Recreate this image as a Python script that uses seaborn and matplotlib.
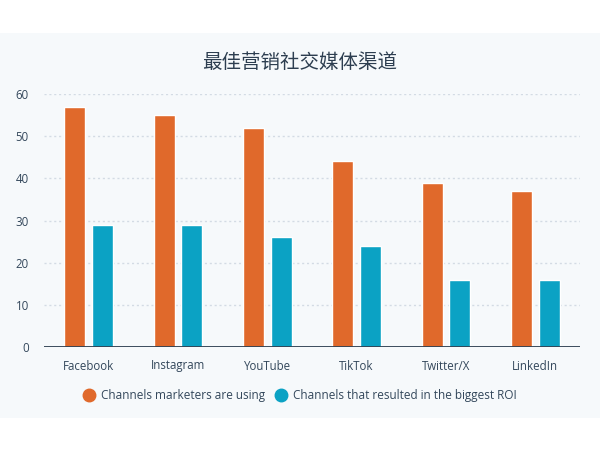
import numpy as np
import pandas as pd
import matplotlib
matplotlib.use("Agg")
import matplotlib.pyplot as plt
from matplotlib.lines import Line2D
from matplotlib.patches import Rectangle
import seaborn as sns

channels = ["Facebook", "Instagram", "YouTube", "TikTok", "Twitter/X", "LinkedIn"]
using = [57, 55, 52, 44, 39, 37]
roi = [29, 29, 26, 24, 16, 16]
series_names = ["Channels marketers are using", "Channels that resulted in the biggest ROI"]
title = "最佳营销社交媒体渠道"

colors = ["#e0692b", "#0ba2c4"]
text_col = "#33475b"

df = pd.DataFrame({
    "channel": channels * 2,
    "value": using + roi,
    "series": [series_names[0]] * len(channels) + [series_names[1]] * len(channels),
})

sns.set_theme(style="white")
plt.rcParams["font.family"] = ["Open Sans", "Noto Sans CJK SC", "DejaVu Sans"]

fig = plt.figure(figsize=(6, 4.5), dpi=100)
fig.patch.set_facecolor("white")
# light panel behind the chart
panel = Rectangle((0, 1 - 418 / 450), 1, (418 - 33) / 450,
                  transform=fig.transFigure, facecolor="#f6f9fb",
                  edgecolor="none", zorder=-10)
fig.add_artist(panel)

ax = fig.add_axes([44 / 600, 1 - 347 / 450, (580 - 44) / 600, (347 - 94) / 450])
ax.set_facecolor("none")

sns.barplot(data=df, x="channel", y="value", hue="series", palette=colors,
            width=0.62, gap=0.24, ax=ax, legend=False, saturation=1)

ax.set_ylim(0, 60)
ax.set_xlim(-0.5, len(channels) - 0.5)
ax.set_yticks(range(0, 61, 10))
ax.set_axisbelow(True)
for y in range(10, 61, 10):
    ax.axhline(y, color="#d3dbe4", lw=1.0, ls=(0, (1.5, 2)), zorder=0)
ax.axhline(0, color="#2d3e50", lw=1.3, zorder=3)

for s in ax.spines.values():
    s.set_visible(False)
ax.set_xlabel("")
ax.set_ylabel("")
ax.tick_params(axis="both", length=0, labelsize=8.3, labelcolor=text_col)
ax.tick_params(axis="x", pad=9)
ax.tick_params(axis="y", pad=11)

fig.text(0.5, 1 - 62 / 450, title, ha="center", va="center", fontsize=14,
         color="#2d3e50", weight="light", family=["Noto Sans CJK SC", "DejaVu Sans"])

handles = [Line2D([], [], marker="o", ls="", markersize=9, color=c) for c in colors]
fig.legend(handles, series_names, loc="center", bbox_to_anchor=(0.5, 1 - 396 / 450),
           ncol=2, frameon=False, fontsize=8.5, labelcolor=text_col,
           handletextpad=0.5, columnspacing=0.9, handlelength=1.0)

fig.savefig("out.png", dpi=100)
